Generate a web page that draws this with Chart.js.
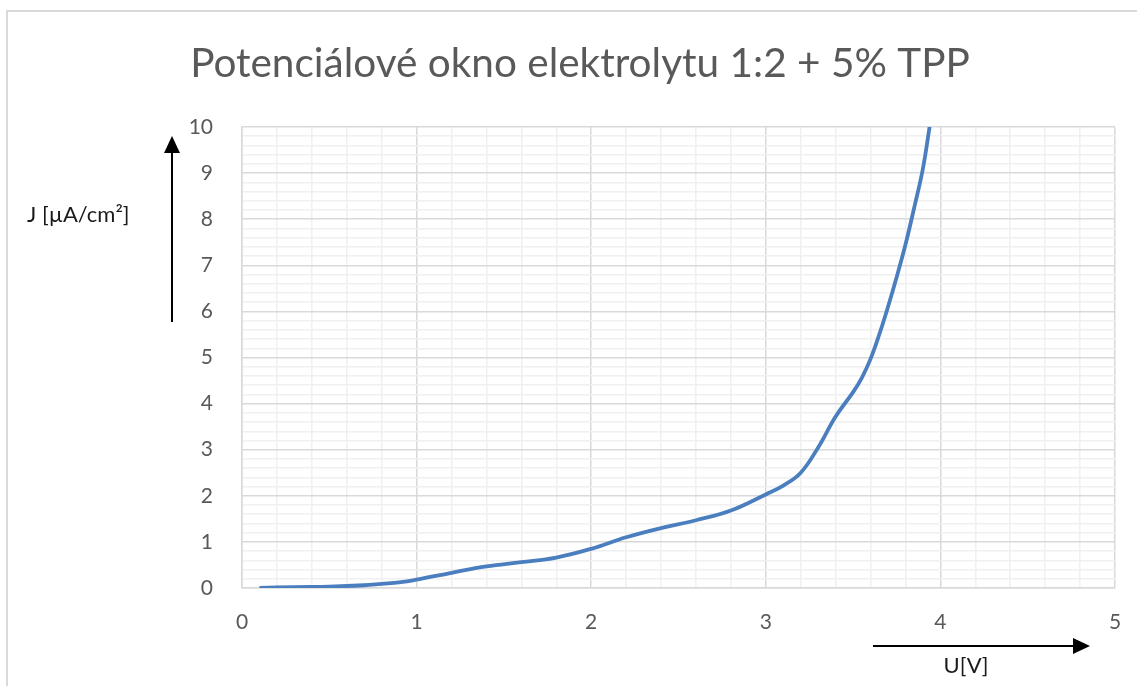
<!DOCTYPE html>
<html>
<head>
<meta charset="utf-8">
<script src="https://cdn.jsdelivr.net/npm/chart.js@4.4.1/dist/chart.umd.min.js"></script>
<style>
  html, body { margin: 0; padding: 0; background: #fff; }
  #graf { display: block; }
</style>
</head>
<body>
<canvas id="graf" width="1137" height="686"></canvas>
<script>
// === DADOS DO GRAFICO ===
const titulo = 'Potenciálové okno elektrolytu 1:2 + 5% TPP';
const rotuloY = 'J [µA/cm²]';
const rotuloX = 'U[V]';

// napeti U [V]
const napeti = [0.1, 0.3, 0.5, 0.7, 0.8, 0.9, 1.0, 1.2, 1.4, 1.6, 1.8, 2.0, 2.2, 2.4, 2.6, 2.8,
                3.0, 3.1, 3.2, 3.3, 3.4, 3.5, 3.55, 3.6, 3.65, 3.7, 3.75, 3.8, 3.85, 3.9, 3.94];
// proudova hustota J [uA/cm2]
const proud = [0, 0.02, 0.03, 0.06, 0.09, 0.12, 0.18, 0.33, 0.47, 0.56, 0.66, 0.85, 1.1, 1.3, 1.47, 1.68,
               2.03, 2.22, 2.5, 3.05, 3.72, 4.25, 4.56, 4.97, 5.5, 6.1, 6.75, 7.45, 8.25, 9.1, 10.05];

const osaX = { min: 0, max: 5, krok: 0.2 };
const osaY = { min: 0, max: 10, krok: 0.2 };

// --- utilidades ---
function jeCele(v) {
    return Math.abs(v - Math.round(v)) < 1e-6;
}
function barvaMrizky(ctx) {
    const v = ctx.tick ? ctx.tick.value : 0;
    return jeCele(v) ? '#d9d9d9' : '#f0f0f0';
}

function sipka(ctx, x1, y1, x2, y2) {
    const ang = Math.atan2(y2 - y1, x2 - x1);
    const delka = 17, sirka = 8;
    ctx.beginPath();
    ctx.moveTo(x1, y1);
    ctx.lineTo(x2 - Math.cos(ang) * (delka - 2), y2 - Math.sin(ang) * (delka - 2));
    ctx.strokeStyle = '#000';
    ctx.lineWidth = 2;
    ctx.stroke();
    ctx.beginPath();
    ctx.moveTo(x2, y2);
    ctx.lineTo(x2 - Math.cos(ang) * delka - Math.sin(ang) * sirka, y2 - Math.sin(ang) * delka + Math.cos(ang) * sirka);
    ctx.lineTo(x2 - Math.cos(ang) * delka + Math.sin(ang) * sirka, y2 - Math.sin(ang) * delka - Math.cos(ang) * sirka);
    ctx.closePath();
    ctx.fillStyle = '#000';
    ctx.fill();
}

// plugin: ramecek, titulek, popisky os a sipky
const popisky = {
    id: 'popisky',
    beforeDraw(chart) {
        const ctx = chart.ctx;
        ctx.save();
        ctx.strokeStyle = '#d9d9d9';
        ctx.lineWidth = 2;
        ctx.strokeRect(7, 11, 1200, 800);
        ctx.restore();
    },
    afterDraw(chart) {
        const ctx = chart.ctx;
        ctx.save();
        // titulek
        let vel = 40;
        ctx.font = `${vel}px Lato`;
        const w = ctx.measureText(titulo).width;
        vel = vel * 780 / w;
        ctx.font = `${vel}px Lato`;
        ctx.fillStyle = '#595959';
        ctx.textAlign = 'center';
        ctx.textBaseline = 'middle';
        ctx.fillText(titulo, 580, 64);

        // popisek Y
        ctx.font = '22px Lato';
        ctx.fillStyle = '#1a1a1a';
        ctx.textAlign = 'left';
        ctx.fillText(rotuloY, 27, 215);
        // popisek X
        ctx.textAlign = 'center';
        ctx.fillText(rotuloX, 966, 666);

        sipka(ctx, 172, 322, 172, 136);
        sipka(ctx, 873, 646, 1090, 646);
        ctx.restore();
    }
};

new Chart(document.getElementById('graf'), {
    type: 'scatter',
    data: {
        datasets: [{
            data: napeti.map((u, i) => ({ x: u, y: proud[i] })),
            showLine: true,
            borderColor: '#4a7ebf',
            borderWidth: 3.8,
            pointRadius: 0,
            tension: 0.4,
            fill: false,
            clip: 0
        }]
    },
    options: {
        responsive: false,
        animation: false,
        layout: { padding: { left: 0, right: 22, top: 127, bottom: 0 }, autoPadding: false },
        plugins: {
            legend: { display: false },
            title: { display: false },
            tooltip: { enabled: false }
        },
        scales: {
            x: {
                type: 'linear',
                min: osaX.min,
                max: osaX.max,
                afterFit: (s) => { s.height = 98; s.paddingLeft = 0; s.paddingRight = 0; },
                afterBuildTicks: (s) => {
                    s.ticks = [];
                    for (let v = osaX.min; v <= osaX.max + 1e-9; v += osaX.krok) s.ticks.push({ value: +v.toFixed(2) });
                },
                ticks: {
                    autoSkip: false,
                    maxRotation: 0,
                    padding: 22,
                    color: '#595959',
                    font: { family: 'Lato', size: 21 },
                    callback: (v) => jeCele(v) ? Math.round(v) : ''
                },
                grid: { color: barvaMrizky, lineWidth: 1.5, drawTicks: false },
                border: { color: '#d9d9d9', width: 1.5 }
            },
            y: {
                type: 'linear',
                min: osaY.min,
                max: osaY.max,
                afterFit: (s) => { s.width = 242; s.paddingTop = 0; s.paddingBottom = 0; },
                afterBuildTicks: (s) => {
                    s.ticks = [];
                    for (let v = osaY.min; v <= osaY.max + 1e-9; v += osaY.krok) s.ticks.push({ value: +v.toFixed(2) });
                },
                ticks: {
                    autoSkip: false,
                    padding: 29,
                    color: '#595959',
                    font: { family: 'Lato', size: 21 },
                    callback: (v) => jeCele(v) ? Math.round(v) : ''
                },
                grid: { color: barvaMrizky, lineWidth: 1.5, drawTicks: false },
                border: { color: '#d9d9d9', width: 1.5 }
            }
        }
    },
    plugins: [popisky]
});
</script>
</body>
</html>
